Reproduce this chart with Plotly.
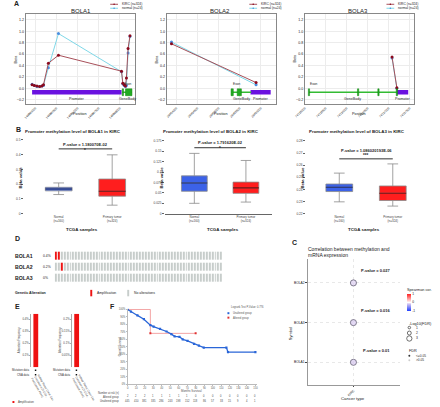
import plotly.graph_objects as go

W, H = 440, 407
def X(p): return p / W
def Y(p): return 1 - p / H

FONT = "Liberation Sans, Arial, sans-serif"

# ---------------- Panel A data ----------------
a_genes = ["BOLA1", "BOLA2", "BOLA3"]
bola1_pos = [149895923, 149895977, 149896038, 149896100, 149896154, 149896192, 149896308,
             149896547, 149898040, 149898071, 149898102, 149898133, 149898156, 149898195, 149898240]
bola1_kirc = [0.06, 0.05, 0.04, 0.03, 0.04, 0.06, 0.44, 0.58, 0.30, 0.09, 0.06, 0.04, 0.18, 0.70, 0.92]
bola1_normal = [0.07, 0.05, 0.03, 0.03, 0.04, 0.05, 0.36, 0.96, 0.29, 0.08, 0.05, 0.03, 0.05, 0.62, 0.91]
bola2_pos = [29453884, 29455887]
bola2_kirc = [0.78, 0.10]
bola2_normal = [0.81, 0.06]
bola3_pos = [74137079, 74137194]
bola3_kirc = [0.55, 0.01]
bola3_normal = [0.53, 0.00]

bola1_promoter = [149895923, 149898040]
bola1_exons = [[149898056, 149898087], [149898133, 149898287]]
bola1_body = [149898056, 149898287]
bola2_promoter = [29455756, 29456233]
bola2_exons = [[29455294, 29455348], [29455440, 29455540]]
bola2_body = [29455294, 29455771]
bola3_promoter = [74137194, 74137464]
bola3_exons = [[74135085, 74135115], [74136255, 74136286], [74136740, 74136771], [74137179, 74137210]]
bola3_body = [74135100, 74137194]

# ---------------- Panel B data ----------------
b_groups = ["Normal<br>(n=160)", "Primary tumor<br>(n=324)"]
b_lower = [[0.130, 0.058], [0.025, 0.028], [0.2298, 0.2263]]
b_q1 = [[0.155, 0.119], [0.054, 0.049], [0.2383, 0.2309]]
b_med = [[0.168, 0.152], [0.074, 0.062], [0.2418, 0.2369]]
b_q3 = [[0.179, 0.235], [0.091, 0.076], [0.2445, 0.2429]]
b_upper = [[0.2085, 0.399], [0.145, 0.128], [0.2535, 0.2611]]
b_pvals = ["1.180070E-02", "1.791620E-02", "1.086020193E-06"]
b_stars = ["*", "*", "***"]
b_yticks = [[0, 0.1, 0.2, 0.3, 0.4, 0.5],
            [0, 0.025, 0.05, 0.075, 0.1, 0.125, 0.15, 0.175],
            [0.22, 0.23, 0.24, 0.25, 0.26, 0.27, 0.28]]

# ---------------- Panel C data ----------------
c_genes = ["BOLA1", "BOLA3", "BOLA2"]
c_cor = [-0.16, -0.15, -0.14]
c_neglog_fdr = [3.5, 3.5, 3.5]
c_pvals = ["0.01", "0.016", "0.027"]
c_size_legend = [1, 2, 3]

# ---------------- Panel D data ----------------
d_genes = ["BOLA1", "BOLA2", "BOLA3"]
d_pct = ["0.4%", "0.2%", "0%"]
d_ncols = 58
d_amp_cols = [[0, 1], [2], []]

# ---------------- Panel E data ----------------
e_freq = [0.446, 0.223]
e_ticks = [[0.1, 0.2, 0.3, 0.4], [0.05, 0.1, 0.15, 0.2]]
e_study = "Kidney Renal Clear Cell<br>Carcinoma (TCGA,<br>PanCancer Atlas)"

# ---------------- Panel F data ----------------
f_unalt_t = [0, 3.8, 11.4, 19.0, 26.6, 30.4, 38.0, 45.6, 51.3, 55.1, 60.8, 64.6, 70.3, 77.9,
             83.6, 89.3, 115.9, 117.8, 150]
f_unalt_s = [100, 97, 92, 87, 79, 77, 74, 70.5, 67, 64, 63.4, 60, 58, 54, 51.5, 49, 49, 43, 43]
f_alt_t = [0, 26.6, 79.8]
f_alt_s = [100, 68, 68]
f_times = list(range(0, 151, 10))
f_risk_alt = [2, 2, 2, 1, 1, 1, 1, 1, 0, 0, 0, 0, 0, 0, 0, 0]
f_risk_unalt = [445, 410, 381, 335, 286, 243, 198, 152, 118, 86, 57, 33, 15, 9, 4, 1]

# ---------------------------------------------------------------
fig = go.Figure()
layout = dict(width=W, height=H, margin=dict(l=0, r=0, t=0, b=0),
              paper_bgcolor="white", plot_bgcolor="white", showlegend=False,
              font=dict(family=FONT, size=4, color="#222"))
annotations = []
shapes = []

def xn(n): return "x" if n == 1 else f"x{n}"
def yn(n): return "y" if n == 1 else f"y{n}"
def xk(n): return "xaxis" if n == 1 else f"xaxis{n}"
def yk(n): return "yaxis" if n == 1 else f"yaxis{n}"

def txt(x, y, s, size=4, color="#222", xanchor="center", yanchor="middle", angle=0,
        xref="paper", yref="paper", **kw):
    annotations.append(dict(x=x, y=y, text=s, showarrow=False, xref=xref, yref=yref,
                            xanchor=xanchor, yanchor=yanchor, textangle=angle,
                            font=dict(size=size, color=color, family=FONT), **kw))

# panel letters
for L, px_, py_ in [("A", 1, 3), ("B", 3, 129), ("D", 2, 239), ("C", 287, 243), ("E", 2, 308), ("F", 100, 308)]:
    txt(X(px_), Y(py_), f"<b>{L}</b>", size=7, xanchor="left")

# ---------------- Panel A ----------------
a_data = [(bola1_pos, bola1_kirc, bola1_normal, bola1_promoter, bola1_exons, bola1_body),
          (bola2_pos, bola2_kirc, bola2_normal, bola2_promoter, bola2_exons, bola2_body),
          (bola3_pos, bola3_kirc, bola3_normal, bola3_promoter, bola3_exons, bola3_body)]
a_dom = [(15, 127), (160, 272), (302, 414)]
a_rng = [[149895769, 149898348], [29453769, 29456349], [74135000, 74137595]]
a_title_x = [72, 215, 357]
a_leg_x = [102, 245, 386]
for i, (pos, kirc, norm, prom, exons, body) in enumerate(a_data):
    n = i + 1
    fig.add_trace(go.Scatter(x=pos, y=norm, mode="lines+markers", xaxis=xn(n), yaxis=yn(n),
                             line=dict(color="#7fd8e8", width=1),
                             marker=dict(color="#4a8fe0", size=3)))
    fig.add_trace(go.Scatter(x=pos, y=kirc, mode="lines+markers", xaxis=xn(n), yaxis=yn(n),
                             line=dict(color="#a8505a", width=1),
                             marker=dict(color="#8b0a1e", size=3)))
    layout[xk(n)] = dict(domain=[X(a_dom[i][0]), X(a_dom[i][1])], anchor=yn(n), range=a_rng[i],
                         dtick=500, tickformat="d", tickangle=-45, tickfont=dict(size=3),
                         showgrid=True, gridcolor="#ececec", zeroline=False, showline=True,
                         mirror=True, linecolor="#888", linewidth=0.8, ticks="")
    layout[yk(n)] = dict(domain=[Y(104), Y(13)], anchor=xn(n), range=[-0.28, 1.305],
                         tickvals=[-0.2, 0, 0.2, 0.4, 0.6, 0.8, 1.0, 1.2], tickformat=".1f",
                         tickfont=dict(size=3.6), showgrid=True, gridcolor="#ececec",
                         zeroline=False, showline=True, mirror=True, linecolor="#888",
                         linewidth=0.8, ticks="")
    # gene track
    shapes.append(dict(type="rect", xref=xn(n), yref=yn(n), x0=prom[0], x1=prom[1], y0=-0.11, y1=-0.03,
                       fillcolor="#6a12e0", line=dict(width=0)))
    shapes.append(dict(type="line", xref=xn(n), yref=yn(n), x0=body[0], x1=body[1], y0=-0.07, y1=-0.07,
                       line=dict(color="#33bb33", width=1.5)))
    for e0, e1 in exons:
        shapes.append(dict(type="rect", xref=xn(n), yref=yn(n), x0=e0, x1=e1, y0=-0.13, y1=-0.01,
                           fillcolor="#22aa22", line=dict(color="#118811", width=0.5)))
    txt((prom[0] + prom[1]) / 2, -0.19, "Promoter", size=3.6, xref=xn(n), yref=yn(n))
    txt((body[0] + body[1]) / 2, -0.19, "GeneBody", size=3.6, xref=xn(n), yref=yn(n))
    txt(exons[0][0], 0.0, "Exon", size=3.2, xref=xn(n), yref=yn(n), xanchor="left", yanchor="bottom")
    txt(X(a_title_x[i]), Y(10), a_genes[i], size=6)
    txt(X(a_dom[i][0] - 10), Y(58), "Beta", size=3.8, angle=-90)
    txt(X((a_dom[i][0] + a_dom[i][1]) / 2), Y(114), "Position", size=3.8)
    # legend
    lx = a_leg_x[i]
    for k, (lab, lc, mc) in enumerate([("KIRC (n=324)", "#a8505a", "#8b0a1e"),
                                        ("normal (n=24)", "#7fd8e8", "#4a8fe0")]):
        ly = 3.3 + 4 * k
        shapes.append(dict(type="line", xref="paper", yref="paper", x0=X(lx), x1=X(lx + 8),
                           y0=Y(ly), y1=Y(ly), line=dict(color=lc, width=1)))
        shapes.append(dict(type="circle", xref="paper", yref="paper", x0=X(lx + 3.2), x1=X(lx + 4.8),
                           y0=Y(ly + 0.8), y1=Y(ly - 0.8), fillcolor=mc, line=dict(width=0)))
        txt(X(lx + 10), Y(ly), lab, size=3.3, xanchor="left")

# ---------------- Panel B ----------------
b_dom = [(13, 123), (158, 268), (303, 413)]
b_xr = [[-0.655, 1.345], [-0.575, 1.5], [-0.627, 1.373]]
b_yr = [[0, 0.52], [0, 0.1844], [0.22, 0.2833]]
b_title_x = [64, 206, 356]
b_ptext = [0.905, 0.93, 0.82]
b_star = [0.83, 0.855, 0.755]
b_brk = [0.845, 0.86, 0.715]
fills = ["#3c62e8", "#ff1e1e"]
meds = ["#1b2b6b", "#7a0a0a"]
for j in range(3):
    n = 4 + j
    for g in range(2):
        fig.add_trace(go.Box(x=[g], q1=[b_q1[j][g]], median=[b_med[j][g]], q3=[b_q3[j][g]],
                             lowerfence=[b_lower[j][g]], upperfence=[b_upper[j][g]],
                             xaxis=xn(n), yaxis=yn(n), fillcolor=fills[g], width=0.5,
                             whiskerwidth=0.4, line=dict(color="#8a8a8a", width=0.8),
                             boxpoints=False, hoverinfo="skip"))
        fig.add_trace(go.Box(x=[g], q1=[b_med[j][g]], median=[b_med[j][g]], q3=[b_med[j][g]],
                             lowerfence=[b_med[j][g]], upperfence=[b_med[j][g]],
                             xaxis=xn(n), yaxis=yn(n), fillcolor=fills[g], width=0.5,
                             whiskerwidth=0, line=dict(color=meds[g], width=1.1),
                             boxpoints=False, hoverinfo="skip"))
    layout[xk(n)] = dict(domain=[X(b_dom[j][0]), X(b_dom[j][1])], anchor=yn(n), range=b_xr[j],
                         tickvals=[0, 1], ticktext=b_groups, tickfont=dict(size=3, color="#444"),
                         showgrid=False, zeroline=False, showline=(j == 1), linecolor="#666",
                         linewidth=0.8, ticks="")
    layout[yk(n)] = dict(domain=[Y(214.3), Y(137)], anchor=xn(n), range=b_yr[j],
                         tickvals=b_yticks[j], ticktext=[f"{v:g}" for v in b_yticks[j]],
                         tickfont=dict(size=3.2, color="#444"), showgrid=False, zeroline=False,
                         showline=False, ticks="outside", ticklen=1.5, tickcolor="#666", tickwidth=0.6)
    txt(X(b_title_x[j]), Y(131), f"<b>Promoter methylation level of {a_genes[j]} in KIRC</b>", size=4.4)
    txt(0.5, b_ptext[j], f"<b>P-value = {b_pvals[j]}</b>", size=4, xref=xn(n), yref=yn(n) + " domain")
    txt(0.5, b_star[j], f"<b>{b_stars[j]}</b>", size=4.5, xref=xn(n), yref=yn(n) + " domain")
    shapes.append(dict(type="line", xref=xn(n), yref=yn(n) + " domain", x0=0, x1=1,
                       y0=b_brk[j], y1=b_brk[j], line=dict(color="#333", width=1)))
    txt(X((b_dom[j][0] + b_dom[j][1]) / 2 + 5), Y(230), "<b>TCGA samples</b>", size=4.4)
    txt(X(b_dom[j][0] - 3), Y(178), "<b>Beta value</b>", size=4.2, angle=-90)

# ---------------- Panel D ----------------
z = []
for r in range(3):
    z.append([1 if c in d_amp_cols[r] else 0 for c in range(d_ncols)])
fig.add_trace(go.Heatmap(z=z, x=list(range(d_ncols)), y=d_genes, xaxis="x7", yaxis="y7",
                         colorscale=[[0, "#c7cdcb"], [0.5, "#c7cdcb"], [0.5, "#ee1414"], [1, "#ee1414"]],
                         zmin=0, zmax=1, showscale=False, xgap=1, ygap=3, hoverinfo="skip"))
layout["xaxis7"] = dict(domain=[X(45), X(218)], anchor="y7", visible=False)
layout["yaxis7"] = dict(domain=[Y(284.5), Y(251.5)], anchor="x7", autorange="reversed", visible=False)
for r, gname in enumerate(d_genes):
    yy = 257 + 11 * r
    txt(X(2), Y(yy), f"<b>{gname}</b>", size=5.2, xanchor="left")
    txt(X(31), Y(yy), d_pct[r], size=3.4, xanchor="left")
txt(X(2), Y(294), "<b>Genetic Alteration</b>", size=3.6, xanchor="left")
shapes.append(dict(type="rect", xref="paper", yref="paper", x0=X(81.5), x1=X(83.5), y0=Y(297.5), y1=Y(291),
                   fillcolor="#ee1414", line=dict(width=0)))
txt(X(86), Y(294.5), "Amplification", size=3.4, xanchor="left")
shapes.append(dict(type="rect", xref="paper", yref="paper", x0=X(119.5), x1=X(121.5), y0=Y(297.5), y1=Y(291),
                   fillcolor="#c7cdcb", line=dict(width=0)))
txt(X(124), Y(294.5), "No alterations", size=3.4, xanchor="left")

# ---------------- Panel C ----------------
def csize(v): return 1.2 + 1.4 * v
cscale = [[0, "#1f3fff"], [0.42, "#d8c8f0"], [0.5, "#ffffff"], [1, "#ff1f1f"]]
fig.add_trace(go.Scatter(x=[0] * len(c_genes), y=c_genes, mode="markers", xaxis="x8", yaxis="y8",
                         marker=dict(size=[csize(v) for v in c_neglog_fdr], color=c_cor, cmin=-1, cmax=1,
                                     colorscale=cscale, line=dict(color="#3b3450", width=0.9),
                                     showscale=True,
                                     colorbar=dict(x=X(407), xanchor="left", y=Y(299), yanchor="middle",
                                                   len=26, lenmode="pixels", thickness=4,
                                                   tickvals=[-1, 0, 1], ticktext=["-1", "0", "1"],
                                                   tickfont=dict(size=3.3), outlinewidth=0, ticks="",
                                                   ypad=0, xpad=0,
                                                   title=dict(text="Spearman cor.", side="top",
                                                              font=dict(size=3.8)))),
                         hoverinfo="skip"))
layout["xaxis8"] = dict(domain=[X(305), X(400)], anchor="y8", range=[-1, 1.02], tickvals=[0],
                        ticktext=["KIRC"], tickangle=-45, tickfont=dict(size=3.3),
                        showgrid=True, gridcolor="#e8e8e8", griddash="dot", zeroline=False,
                        showline=True, linecolor="#999", linewidth=0.7, ticks="outside", ticklen=1.5)
layout["yaxis8"] = dict(domain=[Y(387), Y(260)], anchor="x8", range=[-0.575, 2.6],
                        tickfont=dict(size=3.3), showgrid=True, gridcolor="#e8e8e8", griddash="dot",
                        zeroline=False, showline=True, linecolor="#999", linewidth=0.7,
                        ticks="outside", ticklen=1.5)
for k, pv in enumerate(c_pvals):
    txt(0, k, f"<b>P-value = {pv}</b>", size=4, xref="x8", yref="y8", xshift=23, yshift=12)
txt(X(303), Y(250), "Correlation between methylation and", size=5, xanchor="left")
txt(X(303), Y(256), "mRNA expression", size=5, xanchor="left")
txt(X(287.5), Y(335), "Symbol", size=4, angle=-90)
txt(X(352), Y(400), "Cancer type", size=4.3)
txt(X(407), Y(325), "-Log10(FDR)", size=3.8, xanchor="left")
for k, v in enumerate(c_size_legend):
    cy = 329 + 5.5 * k
    r = csize(v) / 2
    shapes.append(dict(type="circle", xref="paper", yref="paper", x0=X(409.5 - r), x1=X(409.5 + r),
                       y0=Y(cy + r), y1=Y(cy - r), fillcolor="white", line=dict(color="#333", width=0.7)))
    txt(X(414), Y(cy), str(v), size=3.3, xanchor="left")
txt(X(407), Y(352.5), "FDR", size=3.8, xanchor="left")
for k, (lab, col) in enumerate([("<=0.05", "#333"), (">0.05", "#ccc")]):
    cy = 357.5 + 4.5 * k
    shapes.append(dict(type="circle", xref="paper", yref="paper", x0=X(408.5), x1=X(410.5),
                       y0=Y(cy + 1), y1=Y(cy - 1), fillcolor=col, line=dict(width=0)))
    txt(X(414), Y(cy), lab, size=3.2, xanchor="left")

# ---------------- Panel E ----------------
e_dom = [(21, 30), (63, 72)]
for k in range(2):
    n = 9 + k
    fig.add_trace(go.Bar(x=[0], y=[e_freq[k]], xaxis=xn(n), yaxis=yn(n), width=0.55,
                         marker=dict(color="#ee1111", line=dict(width=0)), hoverinfo="skip"))
    layout[xk(n)] = dict(domain=[X(e_dom[k][0]), X(e_dom[k][1])], anchor=yn(n), range=[-0.5, 0.5],
                         visible=False)
    layout[yk(n)] = dict(domain=[Y(369), Y(315)], anchor=xn(n), range=[0, e_freq[k]],
                         tickvals=e_ticks[k], ticktext=[f"{v:g}%" for v in e_ticks[k]],
                         tickfont=dict(size=2.8, color="#444"), showgrid=False, zeroline=False,
                         showline=True, linecolor="#aaa", linewidth=0.6, ticks="outside",
                         ticklen=1.2, tickcolor="#aaa")
    ex = e_dom[k][0]
    txt(X(ex - 12), Y(342), "Alteration Frequency", size=2.8, angle=-90, color="#444")
    txt(X(ex), Y(372), "Mutation data", size=2.8, xanchor="right", color="#333")
    txt(X(ex), Y(376.5), "CNA data", size=2.8, xanchor="right", color="#333")
    for yy in (372, 376.5):
        shapes.append(dict(type="rect", xref="paper", yref="paper", x0=X(ex + 3.5), x1=X(ex + 5),
                           y0=Y(yy + 0.75), y1=Y(yy - 0.75), fillcolor="#111", line=dict(width=0)))
    txt(X(ex + 12), Y(391), e_study, size=2.8, angle=60, color="#444", align="left")
shapes.append(dict(type="rect", xref="paper", yref="paper", x0=X(1.5), x1=X(3.5), y0=Y(405), y1=Y(403),
                   fillcolor="#ee1111", line=dict(width=0)))
txt(X(5), Y(404), "Amplification", size=2.8, xanchor="left", color="#444")

# ---------------- Panel F ----------------
fig.add_trace(go.Scatter(x=f_alt_t, y=f_alt_s, mode="lines", line_shape="hv", xaxis="x11", yaxis="y11",
                         line=dict(color="#f29a9a", width=0.9), hoverinfo="skip"))
fig.add_trace(go.Scatter(x=f_alt_t[1:], y=f_alt_s[1:], mode="markers", xaxis="x11", yaxis="y11",
                         marker=dict(color="#e03030", size=2, symbol="square"), hoverinfo="skip"))
fig.add_trace(go.Scatter(x=f_unalt_t, y=f_unalt_s, mode="lines+markers", xaxis="x11", yaxis="y11",
                         line=dict(color="#2a66d8", width=1.3),
                         marker=dict(color="#2a66d8", size=2.2, symbol="square"), hoverinfo="skip"))
layout["xaxis11"] = dict(domain=[X(120), X(253)], anchor="y11", range=[0, 152], tickvals=f_times,
                         tickfont=dict(size=2.6, color="#555"), showgrid=False, zeroline=False,
                         showline=True, linecolor="#bbb", linewidth=0.6, ticks="outside", ticklen=1,
                         tickcolor="#bbb")
layout["yaxis11"] = dict(domain=[Y(386), Y(310)], anchor="x11", range=[0, 101],
                         tickvals=list(range(0, 101, 10)), ticktext=[f"{v}%" for v in range(0, 101, 10)],
                         tickfont=dict(size=2.6, color="#555"), showgrid=False, zeroline=False,
                         showline=True, linecolor="#bbb", linewidth=0.6, ticks="outside", ticklen=1,
                         tickcolor="#bbb")
txt(X(113), Y(348), "Overall Survival", size=2.8, angle=-90, color="#555")
txt(X(186), Y(392.5), "Months Survival", size=2.9, color="#555")
txt(X(224), Y(308.5), "Logrank Test P-Value: 0.776", size=2.6, xanchor="left", color="#555")
for k, (lab, col) in enumerate([("Unaltered group", "#2a66d8"), ("Altered group", "#e03030")]):
    yy = 314.5 + 4.5 * k
    shapes.append(dict(type="rect", xref="paper", yref="paper", x0=X(222.5), x1=X(224.5),
                       y0=Y(yy + 1), y1=Y(yy - 1), fillcolor=col, line=dict(width=0)))
    txt(X(226.5), Y(yy), lab, size=2.6, xanchor="left", color="#555")
txt(X(113), Y(395), "Number at risk (n)", size=2.6, xanchor="right", color="#444")
txt(X(113), Y(399), "Altered group", size=2.6, xanchor="right", color="#444")
txt(X(113), Y(403), "Unaltered group", size=2.6, xanchor="right", color="#444")
for t, a, u in zip(f_times, f_risk_alt, f_risk_unalt):
    txt(t, Y(398), str(a), size=2.6, xref="x11", color="#444")
    txt(t, Y(402.5), str(u), size=2.6, xref="x11", color="#444")

layout["annotations"] = annotations
layout["shapes"] = shapes
fig.update_layout(**layout)
fig.write_html("out.html", config={"displayModeBar": False},
               post_script="document.body.style.margin='0';document.body.style.padding='0';"
                           "document.body.style.overflow='hidden';")
